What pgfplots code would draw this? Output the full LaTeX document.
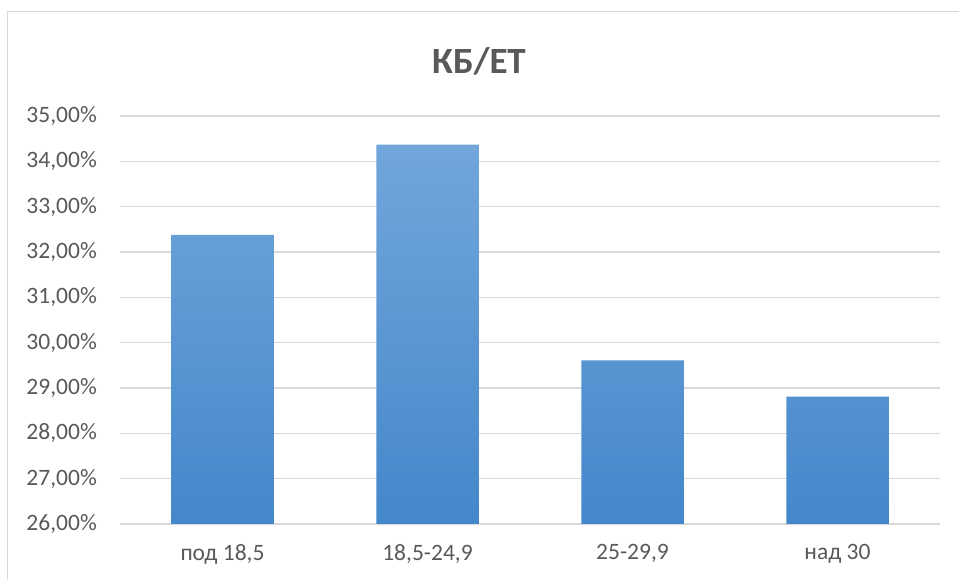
\documentclass[border=0pt]{standalone}
\usepackage{fontspec}
\setmainfont{Carlito}
\usepackage{pgfplots}
\pgfplotsset{compat=1.18}
\definecolor{txt}{HTML}{595959}
\definecolor{gridc}{HTML}{D9D9D9}
\definecolor{bartop}{HTML}{72A6DB}
\definecolor{barbot}{HTML}{4487CB}
\definecolor{framec}{HTML}{D9D9D9}
\begin{document}
\begin{tikzpicture}[x=1bp,y=1bp]
\useasboundingbox (0,0) rectangle (959,580);
\draw[framec, line width=1.5bp] (7.5,-5) -- (7.5,568.5) -- (965,568.5);
\node[txt, font=\fontsize{37bp}{40bp}\selectfont\bfseries] at (479,519) {КБ/ЕТ};
\begin{axis}[
  at={(120bp,56bp)}, anchor=south west,
  scale only axis, width=820bp, height=408bp,
  xmin=-0.5, xmax=3.5, ymin=26, ymax=35,
  ytick={26,27,...,35},
  xtick={0,1,2,3},
  xticklabels={{под 18,5},{18,5-24,9},{25-29,9},{над 30}},
  axis line style={draw=none},
  major tick length=0pt,
  ymajorgrids,
  grid style={gridc, line width=1.3bp},
  /pgf/number format/assume math mode=true,
  yticklabel={\pgfmathprintnumber[fixed,fixed zerofill,precision=2,use comma]{\tick}\%},
  ticklabel style={txt, font=\fontsize{23.5bp}{25bp}\selectfont, inner sep=0pt},
  yticklabel style={anchor=east, xshift=-23bp},
  xticklabel style={anchor=north, yshift=-20bp},
  clip=false,
]
\addplot[ybar, bar width=0.5, draw=none, top color=bartop, bottom color=barbot,
  bar shift=0pt] coordinates {(0,32.38) (1,34.37) (2,29.61) (3,28.81)};
\end{axis}
\end{tikzpicture}
\end{document}
